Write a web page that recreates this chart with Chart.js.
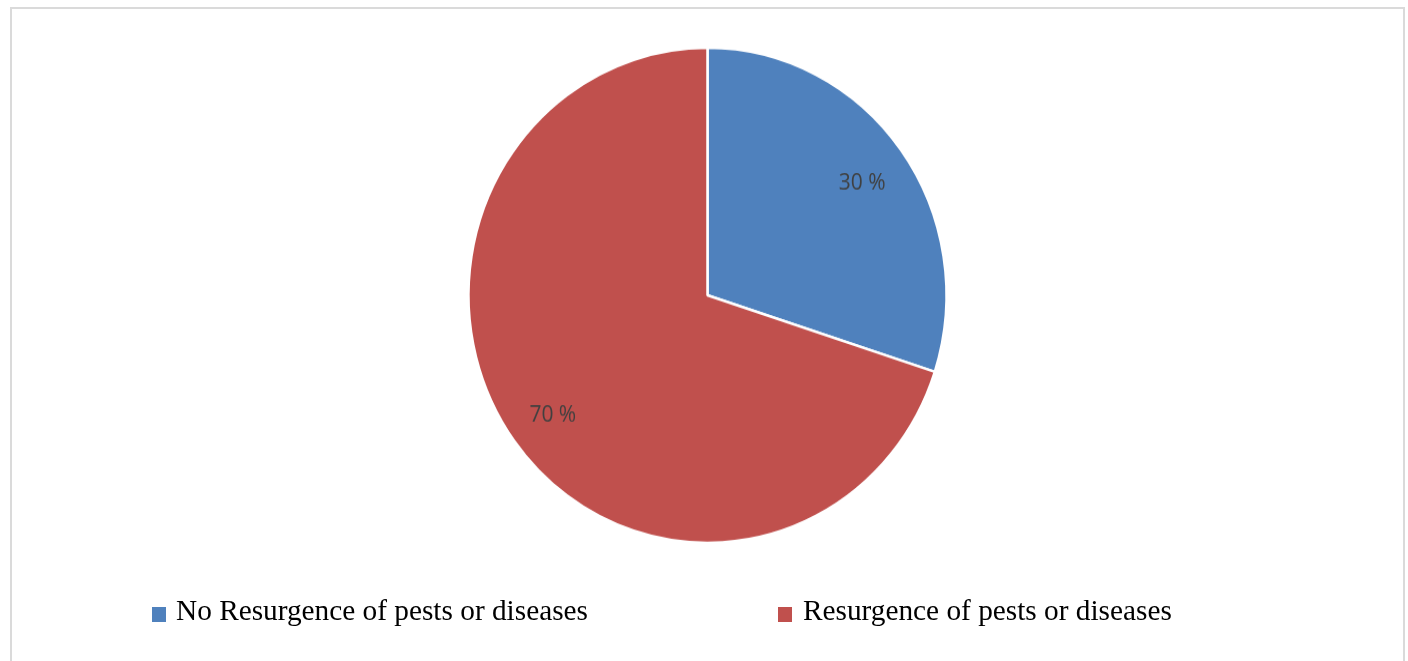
<!DOCTYPE html>
<html>
<head>
<meta charset="utf-8">
<script src="https://cdn.jsdelivr.net/npm/chart.js@4/dist/chart.umd.min.js"></script>
<style>
  html, body { margin: 0; padding: 0; background: #ffffff; overflow: hidden; }
  body { width: 1408px; height: 661px; position: relative; }
  #frame {
    position: absolute; left: 10px; top: 7px; width: 1395px; height: 720px;
    border: 2px solid #dadada; box-sizing: border-box;
  }
  #plot {
    position: absolute; left: 0; top: 0; width: 1408px; height: 638px;
    transform-origin: 0 0; transform: scaleY(1.03605);
  }
  .legend-box { position: absolute; width: 14px; height: 15px; }
  .legend-text {
    position: absolute; font-family: "Liberation Serif", "Times New Roman", serif;
    font-size: 29.3px; line-height: 29px; color: #000000; white-space: nowrap;
  }
</style>
</head>
<body>
<div id="frame"></div>
<div id="plot"><canvas id="pie" width="1408" height="638"></canvas></div>
<div id="legend"></div>
<script>
// Survey answers: share of respondents (%)
const categories = ['No Resurgence of pests or diseases', 'Resurgence of pests or diseases'];
const shares = [30, 70];
const sliceColors = ['#4F81BD', '#C0504D'];

// Legend placement along the bottom row
const legendBoxX = [152, 778];
const legendTextX = [176, 803];

// Writes "NN %" inside each slice
const sliceLabels = {
  id: 'sliceLabels',
  afterDatasetsDraw(chart) {
    const ctx = chart.ctx;
    const meta = chart.getDatasetMeta(0);
    const values = chart.data.datasets[0].data;
    ctx.save();
    ctx.font = '21px "Open Sans", "Noto Sans", sans-serif';
    ctx.fillStyle = '#404040';
    ctx.textAlign = 'center';
    ctx.textBaseline = 'middle';
    meta.data.forEach((arc, i) => {
      const p = arc.getProps(['x', 'y', 'startAngle', 'endAngle', 'outerRadius'], true);
      const mid = (p.startAngle + p.endAngle) / 2;
      const r = p.outerRadius * 0.8;
      ctx.fillText(values[i] + ' %', p.x + Math.cos(mid) * r, p.y + Math.sin(mid) * r + 4);
    });
    ctx.restore();
  }
};

new Chart(document.getElementById('pie'), {
  type: 'pie',
  data: {
    labels: categories,
    datasets: [{
      data: shares,
      backgroundColor: sliceColors,
      borderColor: '#ffffff',
      borderWidth: 2.5
    }]
  },
  options: {
    responsive: false,
    animation: false,
    radius: 239,
    layout: { padding: { left: 7, right: 0, top: 0, bottom: 68 } },
    plugins: {
      legend: { display: false },
      tooltip: { enabled: false },
      title: { display: false }
    }
  },
  plugins: [sliceLabels]
});

// Legend row
const legend = document.getElementById('legend');
categories.forEach((name, i) => {
  const box = document.createElement('div');
  box.className = 'legend-box';
  box.style.left = legendBoxX[i] + 'px';
  box.style.top = '607px';
  box.style.background = sliceColors[i];
  legend.appendChild(box);
  const txt = document.createElement('div');
  txt.className = 'legend-text';
  txt.style.left = legendTextX[i] + 'px';
  txt.style.top = '596px';
  txt.textContent = name;
  legend.appendChild(txt);
});
</script>
</body>
</html>
